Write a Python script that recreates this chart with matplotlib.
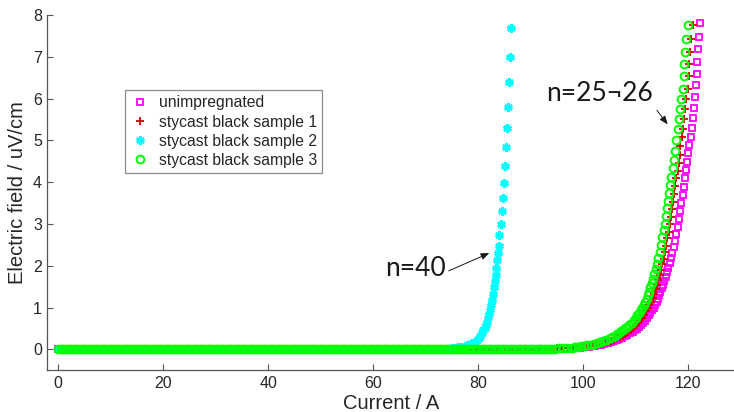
import matplotlib
matplotlib.use("Agg")
import matplotlib.pyplot as plt

# ---------------- data ----------------
# flat baseline shared by all four samples (E ~ 0)
baseline_current = [
    0, 0.5, 1, 1.5, 2, 2.5, 3, 3.5, 4, 4.5, 5, 5.5, 6, 6.5, 7, 7.5, 8, 8.5, 9, 9.5,
    10, 10.5, 11, 11.5, 12, 12.5, 13, 13.5, 14, 14.5, 15, 15.5, 16, 16.5, 17, 17.5, 18, 18.5, 19, 19.5,
    20, 20.5, 21, 21.5, 22, 22.5, 23, 23.5, 24, 24.5, 25, 25.5, 26, 26.5, 27, 27.5, 28, 28.5, 29, 29.5,
    30, 30.5, 31, 31.5, 32, 32.5, 33, 33.5, 34, 34.5, 35, 35.5, 36, 36.5, 37, 37.5, 38, 38.5, 39, 39.5,
    40, 40.5, 41, 41.5, 42, 42.5, 43, 43.5, 44, 44.5, 45, 45.5, 46, 46.5, 47, 47.5, 48, 48.5, 49, 49.5,
    50, 50.5, 51, 51.5, 52, 52.5, 53, 53.5, 54, 54.5, 55, 55.5, 56, 56.5, 57, 57.5, 58, 58.5, 59, 59.5,
    60, 60.5, 61, 61.5, 62, 62.5, 63, 63.5, 64, 64.5, 65, 65.5, 66, 66.5, 67, 67.5, 68, 68.5, 69, 69.5,
    70, 70.5, 71, 71.5, 72, 72.5, 73, 73.5, 74, 74.5,
]
baseline_field = [
    0, 0, 0, 0, 0, 0, 0, 0, 0, 0, 0, 0, 0, 0, 0, 0, 0, 0, 0, 0,
    0, 0, 0, 0, 0, 0, 0, 0, 0, 0, 0, 0, 0, 0, 0, 0, 0, 0, 0, 0,
    0, 0, 0, 0, 0, 0, 0, 0, 0, 0, 0, 0, 0, 0, 0, 0, 0, 0, 0, 0,
    0, 0, 0, 0, 0, 0, 0, 0, 0, 0, 0, 0, 0, 0, 0, 0, 0, 0, 0, 0,
    0, 0, 0, 0, 0, 0, 0, 0, 0, 0, 0, 0, 0, 0, 0, 0, 0, 0, 0, 0,
    0, 0, 0, 0, 0, 0, 0, 0, 0, 0, 0, 0, 0, 0, 0, 0, 0, 0, 0, 0,
    0, 0, 0, 0, 0, 0, 0, 0, 0, 0, 0, 0, 0, 0, 0, 0, 0, 0, 0, 0,
    0, 0, 0, 0, 0, 0, 0, 0, 0, 0,
]
# baseline continuation for the three high-current samples
baseline_high_current = [
    75, 75.5, 76, 76.5, 77, 77.5, 78, 78.5, 79, 79.5, 80, 80.5, 81, 81.5, 82, 82.5, 83, 83.5, 84, 84.5,
    85, 85.5, 86, 86.5, 87, 87.5, 88, 88.5, 89, 89.5, 90, 90.5, 91, 91.5, 92, 92.5, 93, 93.5,
]
baseline_high_field = [
    0, 0, 0, 0, 0, 0, 0, 0, 0, 0, 0, 0, 0, 0, 0, 0, 0, 0, 0, 0,
    0, 0, 0, 0, 0, 0, 0, 0, 0, 0, 0, 0, 0, 0, 0, 0, 0, 0,
]

# unimpregnated (magenta squares)
unimp_current = [94.2, 95.0, 95.6, 96.6, 97.6, 98.6, 99.4, 100.2, 101.0, 101.6, 102.2, 102.8, 103.4, 104.0,
                 104.7, 105.3, 105.9, 106.4, 106.9, 107.4, 107.9, 108.4, 108.9, 109.4, 109.8, 110.2, 110.6,
                 111.0, 111.4, 111.8, 112.2, 112.5, 112.8, 113.1, 113.4, 113.7, 113.95, 114.2, 114.45, 114.7,
                 114.95, 115.2, 115.45, 115.7, 115.95, 116.2, 116.45, 116.7, 116.95, 117.2, 117.52, 117.71,
                 117.96, 118.23, 118.48, 118.67, 118.91, 119.1, 119.3, 119.56, 119.75, 119.94,
                 120.2, 120.45, 120.7, 120.95, 121.1, 121.3, 121.5, 121.6, 121.75, 121.85, 122.0, 122.3]
unimp_field = [0.0, 0.01, 0.01, 0.02, 0.02, 0.03, 0.04, 0.05, 0.06, 0.07, 0.08, 0.10, 0.11, 0.13,
               0.15, 0.18, 0.20, 0.22, 0.25, 0.28, 0.31, 0.34, 0.38, 0.41, 0.45, 0.49, 0.53,
               0.58, 0.63, 0.68, 0.75, 0.81, 0.87, 0.93, 1.00, 1.07, 1.14, 1.21, 1.29, 1.37,
               1.46, 1.55, 1.64, 1.74, 1.84, 1.95, 2.06, 2.18, 2.30, 2.44, 2.60, 2.76,
               2.93, 3.13, 3.32, 3.51, 3.69, 3.89, 4.09, 4.29, 4.49, 4.69,
               4.89, 5.09, 5.30, 5.53, 5.77, 6.04, 6.32, 6.60, 6.88, 7.18, 7.48, 7.81]

# stycast black sample 1 (red plus)
s1_current = [94.0, 95.0, 96.0, 97.0, 98.0, 99.0, 100.0, 100.8, 101.6, 102.4, 103.2, 104.0, 104.6, 105.2,
              105.8, 106.4, 107.0, 107.5, 108.0, 108.5, 109.0, 109.5, 110.0, 110.4, 110.8, 111.2, 111.6,
              112.0, 112.3, 112.6, 112.9, 113.2, 113.5, 113.8, 114.05, 114.3, 114.55, 114.8, 115.05, 115.3,
              115.55, 115.8, 116.0, 116.25, 116.44, 116.7, 116.9, 117.09, 117.33, 117.52, 117.71, 117.96,
              118.15, 118.34, 118.48, 118.75, 119.0, 119.2, 119.4, 119.6, 119.87, 120.06, 120.2, 120.4,
              120.5, 120.8]
s1_field = [0.01, 0.02, 0.02, 0.03, 0.04, 0.05, 0.07, 0.08, 0.09, 0.11, 0.13, 0.16, 0.18, 0.20,
            0.23, 0.26, 0.29, 0.33, 0.37, 0.41, 0.46, 0.51, 0.57, 0.63, 0.69, 0.76, 0.83,
            0.91, 0.98, 1.06, 1.14, 1.23, 1.33, 1.44, 1.54, 1.65, 1.77, 1.90, 2.03, 2.17,
            2.32, 2.47, 2.66, 2.81, 3.00, 3.17, 3.35, 3.53, 3.72, 3.91, 4.09, 4.27,
            4.46, 4.64, 4.86, 5.08, 5.27, 5.50, 5.74, 5.98, 6.23, 6.55, 6.84, 7.12,
            7.42, 7.76]

# stycast black sample 2 (cyan stars)
s2_current = [75.0, 75.6, 76.2, 76.8, 77.4, 77.9, 78.4, 78.9, 79.3, 79.7, 80.1, 80.4, 80.7, 81.0, 81.2,
              81.4, 81.6, 81.8, 82.0, 82.2, 82.4, 82.6, 82.8, 83.0, 83.15, 83.3, 83.45, 83.6, 83.75,
              83.87, 84.05, 84.25, 84.46, 84.67, 84.87, 85.07, 85.26, 85.44, 85.62, 85.8, 85.97, 86.15]
s2_field = [0.03, 0.04, 0.05, 0.06, 0.08, 0.10, 0.12, 0.15, 0.18, 0.22, 0.27, 0.32, 0.38, 0.45, 0.51,
            0.58, 0.66, 0.75, 0.85, 0.95, 1.06, 1.19, 1.33, 1.49, 1.63, 1.78, 1.95, 2.13, 2.30,
            2.48, 2.73, 3.01, 3.31, 3.63, 3.99, 4.39, 4.83, 5.30, 5.80, 6.39, 6.99, 7.68]

# stycast black sample 3 (green circles)
s3_current = [93.8, 94.6, 95.4, 96.2, 97.0, 97.8, 98.4, 99.0, 99.6, 100.2, 100.8, 101.4, 102.0, 102.6,
              103.2, 103.8, 104.4, 105.0, 105.5, 106.0, 106.4, 106.8, 107.2, 107.6, 108.0, 108.4, 108.8,
              109.2, 109.6, 110.0, 110.3, 110.6, 110.9, 111.2, 111.5, 111.8, 112.05, 112.3, 112.55, 112.8,
              113.05, 113.3, 113.55, 113.8, 114.05, 114.3, 114.55, 114.8, 115.05, 115.3, 115.49, 115.75,
              115.94, 116.13, 116.3, 116.57, 116.8, 117.0, 117.28, 117.52, 117.75, 118.0, 118.3, 118.5,
              118.7, 118.9, 119.1, 119.24, 119.37, 119.49, 119.87]
s3_field = [0.01, 0.01, 0.02, 0.02, 0.03, 0.04, 0.05, 0.06, 0.07, 0.08, 0.10, 0.11, 0.13, 0.15,
            0.17, 0.20, 0.23, 0.26, 0.29, 0.33, 0.36, 0.40, 0.43, 0.47, 0.51, 0.54, 0.59,
            0.64, 0.70, 0.76, 0.81, 0.87, 0.93, 0.99, 1.05, 1.12, 1.20, 1.29, 1.38, 1.48,
            1.58, 1.69, 1.80, 1.92, 2.05, 2.19, 2.34, 2.50, 2.68, 2.85, 3.01, 3.19,
            3.37, 3.56, 3.73, 3.93, 4.13, 4.33, 4.53, 4.75, 5.00, 5.27, 5.50, 5.74,
            5.98, 6.23, 6.55, 6.84, 7.12, 7.42, 7.76]

labels = ["unimpregnated", "stycast black sample 1", "stycast black sample 2", "stycast black sample 3"]
x_ticks = [0, 20, 40, 60, 80, 100, 120]
y_ticks = [0, 1, 2, 3, 4, 5, 6, 7, 8]

# ---------------- figure ----------------
plt.rcParams["font.family"] = ["Liberation Sans", "DejaVu Sans"]
fig = plt.figure(figsize=(7.34, 4.12), dpi=100)
ax = fig.add_axes([0.0647, 0.1015, 0.9353, 0.862])

txt = "#262626"

def series(extra_c, extra_f, high=True):
    c = list(baseline_current) + (list(baseline_high_current) if high else []) + list(extra_c)
    f = list(baseline_field) + (list(baseline_high_field) if high else []) + list(extra_f)
    return c, f

c, f = series(unimp_current, unimp_field)
ax.plot(c, f, linestyle="none", marker="s", markersize=4.6, markerfacecolor="none",
        markeredgecolor="#ff00ff", markeredgewidth=1.3, label=labels[0])
c, f = series(s1_current, s1_field)
ax.plot(c, f, linestyle="none", marker="+", markersize=6, markeredgecolor="#d40000",
        markeredgewidth=1.3, label=labels[1])
c, f = series(s2_current, s2_field, high=False)
ax.plot(c, f, linestyle="none", marker=(6, 2, 0), markersize=6, markeredgecolor="#00ffff",
        markerfacecolor="#00ffff", markeredgewidth=2.0, label=labels[2])
c, f = series(s3_current, s3_field)
ax.plot(c, f, linestyle="none", marker="o", markersize=5.6, markerfacecolor="none",
        markeredgecolor="#00ff00", markeredgewidth=1.4, label=labels[3])

ax.set_xlim(-2, 128.7)
ax.set_ylim(-0.5, 8)
ax.set_xticks(x_ticks)
ax.set_yticks(y_ticks)
ax.tick_params(direction="in", length=4, width=0.8, colors="#555555", labelcolor=txt,
               labelsize=11.5, pad=4)
for s in ("top", "right"):
    ax.spines[s].set_visible(False)
for s in ("left", "bottom"):
    ax.spines[s].set_color("#555555")
    ax.spines[s].set_linewidth(0.9)

ax.set_xlabel("Current / A", fontsize=14.5, color=txt, labelpad=2)
ax.set_ylabel("Electric field / uV/cm", fontsize=14.5, color=txt, labelpad=4)

leg = ax.legend(loc="upper left", bbox_to_anchor=(0.1128, 0.789), borderaxespad=0,
                fontsize=11.3, frameon=True, fancybox=False, handlelength=1.2,
                handletextpad=0.6, labelspacing=0.26, borderpad=0.35)
leg.get_frame().set_edgecolor("#707070")
leg.get_frame().set_linewidth(0.9)
for t in leg.get_texts():
    t.set_color(txt)

ann_font = ["Lato", "DejaVu Sans"]
ax.text(68.0, 1.94, "n=40", fontsize=19, family=ann_font, color="#1a1a1a",
        ha="center", va="center")
ax.annotate("", xy=(82.6, 2.33), xytext=(73.9, 1.85),
            arrowprops=dict(arrowstyle="-|>,head_length=0.5,head_width=0.2", color="#1a1a1a", lw=0.7))
ax.text(103.0, 6.13, "n=25\u00ac26", fontsize=19, family=ann_font, color="#1a1a1a",
        ha="center", va="center")
ax.annotate("", xy=(116.4, 5.33), xytext=(113.7, 5.77),
            arrowprops=dict(arrowstyle="-|>,head_length=0.5,head_width=0.2", color="#1a1a1a", lw=0.7))

fig.savefig("out.png", dpi=100)
